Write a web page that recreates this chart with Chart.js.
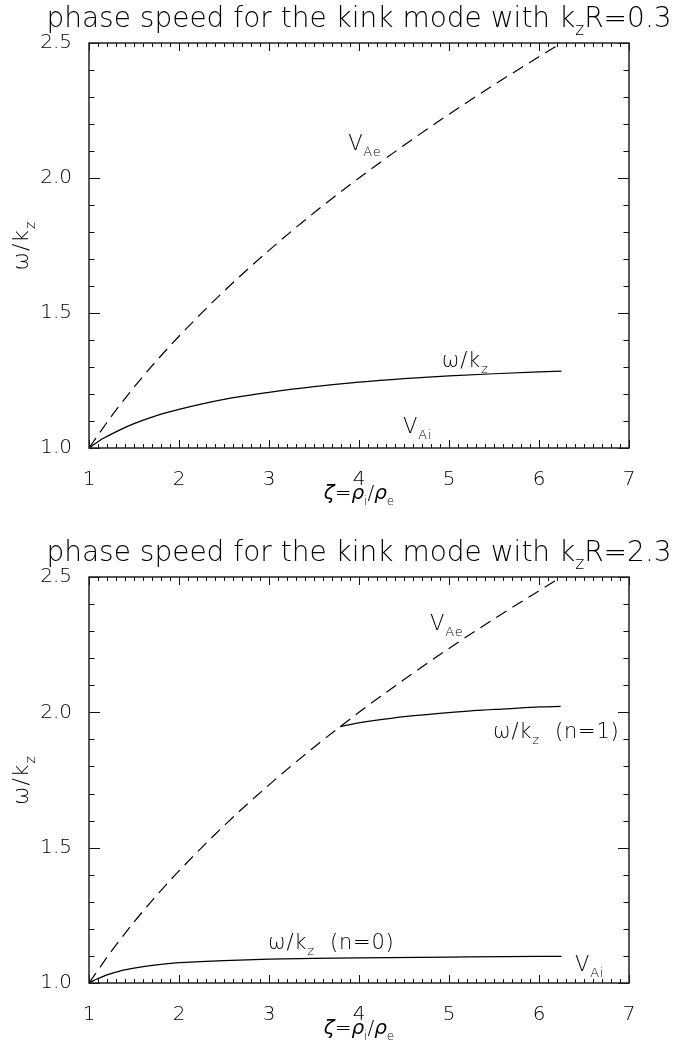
<!DOCTYPE html>
<html><head><meta charset="utf-8">
<script src="https://cdn.jsdelivr.net/npm/chart.js@4"></script>
<style>
html,body{margin:0;padding:0;background:#fff;}
#wrap{position:relative;width:694px;height:1053px;}
canvas{position:absolute;left:0;}
</style></head><body>
<div id="wrap">
<canvas id="c1" width="694" height="526" style="top:0"></canvas>
<canvas id="c2" width="694" height="527" style="top:526px"></canvas>
</div>
<script>
// ---------- data ----------
const xTicks = [1, 2, 3, 4, 5, 6, 7];
const yTicks = [1.0, 1.5, 2.0, 2.5];

// external Alfven speed V_Ae (dashed), same in both panels
const zetaVA = [1, 1.25, 1.5, 1.75, 2, 2.5, 3, 3.5, 4, 4.5, 5, 5.5, 6, 6.25];
const vAe    = [1.0, 1.118, 1.225, 1.323, 1.414, 1.581, 1.732, 1.871, 2.0, 2.121, 2.236, 2.345, 2.449, 2.5];

// kink mode, k_z R = 0.3
const zetaK03 = [1, 1.05, 1.1, 1.15, 1.2, 1.35, 1.5, 1.75, 2, 2.5, 3, 3.5, 4, 4.5, 5, 5.5, 6, 6.25];
const kink03  = [1.0, 1.012, 1.023, 1.034, 1.043, 1.068, 1.09, 1.12, 1.143, 1.18, 1.206, 1.227, 1.244, 1.257, 1.267, 1.275, 1.282, 1.285];

// kink mode, k_z R = 2.3, n = 0
const zetaK23n0 = [1, 1.05, 1.1, 1.2, 1.35, 1.5, 1.75, 2, 2.5, 3, 3.5, 4, 5, 6, 6.25];
const kink23n0  = [1.0, 1.009, 1.016, 1.03, 1.045, 1.055, 1.067, 1.075, 1.083, 1.088, 1.091, 1.093, 1.096, 1.098, 1.098];

// kink mode, k_z R = 2.3, n = 1
const zetaK23n1 = [3.79, 3.9, 4.16, 4.53, 4.9, 5.27, 5.64, 6.01, 6.24];
const kink23n1  = [1.947, 1.955, 1.969, 1.985, 1.996, 2.006, 2.013, 2.02, 2.022];

// ---------- helpers ----------
const FAM = '"DejaVu Sans", sans-serif';
const WEIGHT = '200';
const pts = (xs, ys) => xs.map((v, i) => ({x: v, y: ys[i]}));

function fontStr(size, italic) {
  return (italic ? 'italic ' : '') + WEIGHT + ' ' + size + 'px ' + FAM;
}
function drawRich(ctx, parts, x, y, size, align, spacing) {
  const subS = Math.round(size * 0.62);
  ctx.letterSpacing = (spacing || 0) + 'px';
  let total = 0;
  const ws = parts.map(p => {
    ctx.font = fontStr(p.sub ? subS : size, p.it);
    const w = ctx.measureText(p.t).width;
    total += w;
    return w;
  });
  let cx = align === 'center' ? x - total / 2 : (align === 'right' ? x - total : x);
  ctx.textAlign = 'left';
  ctx.textBaseline = 'alphabetic';
  parts.forEach((p, i) => {
    ctx.font = fontStr(p.sub ? subS : size, p.it);
    ctx.fillText(p.t, cx, p.sub ? y + size * 0.3 : y);
    cx += ws[i];
  });
  ctx.letterSpacing = '0px';
}

const omegaK = [{t: 'ω/k'}, {t: 'z', sub: true}];
const xTitle = [{t: 'ζ', it: true}, {t: '='}, {t: 'ρ', it: true}, {t: 'i', sub: true}, {t: '/'}, {t: 'ρ', it: true}, {t: 'e', sub: true}];

const framePlugin = {
  id: 'framePlugin',
  afterDraw(chart, args, o) {
    const {ctx, chartArea: a, scales: {x, y}} = chart;
    ctx.save();
    ctx.strokeStyle = '#111';
    ctx.fillStyle = '#000';
    ctx.lineWidth = 1;
    const seg = (x1, y1, x2, y2) => { ctx.beginPath(); ctx.moveTo(x1, y1); ctx.lineTo(x2, y2); ctx.stroke(); };
    // x ticks (inward, bottom + top), minor every 0.1
    const x0 = xTicks[0], x1 = xTicks[xTicks.length - 1];
    for (let i = 0; i <= Math.round((x1 - x0) * 10); i++) {
      const v = x0 + i / 10;
      const px = Math.round(x.getPixelForValue(v)) + 0.5;
      const len = i % 10 === 0 ? 8 : 4;
      seg(px, a.bottom, px, a.bottom - len);
      seg(px, a.top, px, a.top + len);
    }
    const y0 = yTicks[0], y1 = yTicks[yTicks.length - 1];
    for (let i = 0; i <= Math.round((y1 - y0) * 10); i++) {
      const v = y0 + i / 10;
      const py = Math.round(y.getPixelForValue(v)) + 0.5;
      const len = i % 5 === 0 ? 11 : 5.5;
      seg(a.left, py, a.left + len, py);
      seg(a.right, py, a.right - len, py);
    }
    ctx.lineWidth = 1.5;
    ctx.strokeStyle = '#222';
    ctx.strokeRect(a.left, a.top, a.right - a.left, a.bottom - a.top);

    // title, centred over the plot box
    drawRich(ctx, o.title, (a.left + a.right) / 2, o.titleY, 28, 'center');
    // axis titles
    drawRich(ctx, xTitle, (a.left + a.right) / 2, a.bottom + 51, 20, 'center');
    ctx.save();
    ctx.translate(28, (a.top + a.bottom) / 2);
    ctx.rotate(-Math.PI / 2);
    drawRich(ctx, omegaK, 0, 0, 22, 'center', 1);
    ctx.restore();
    // annotations
    o.notes.forEach(n => {
      drawRich(ctx, n.parts, x.getPixelForValue(n.x), y.getPixelForValue(n.y), 21, 'left', 0.8);
    });
    ctx.restore();
  }
};

function makeChart(id, datasets, axisH, padTop, opts) {
  return new Chart(document.getElementById(id), {
    type: 'line',
    data: {datasets},
    options: {
      responsive: false,
      animation: false,
      devicePixelRatio: 1,
      layout: {padding: {top: padTop, right: 65, left: 0, bottom: 0}},
      plugins: {legend: {display: false}, tooltip: {enabled: false}, title: {display: false}, framePlugin: opts},
      elements: {point: {radius: 0}, line: {borderColor: '#000', cubicInterpolationMode: 'monotone'}},
      scales: {
        x: {
          type: 'linear', min: xTicks[0], max: xTicks[xTicks.length - 1],
          grid: {display: false}, border: {display: false},
          afterBuildTicks: s => { s.ticks = xTicks.map(v => ({value: v})); },
          ticks: {color: '#000', padding: 12, maxRotation: 0, font: {family: 'DejaVu Sans', size: 20, weight: WEIGHT}, callback: v => String(v)},
          afterFit: s => { s.height = axisH; }
        },
        y: {
          type: 'linear', min: yTicks[0], max: yTicks[yTicks.length - 1],
          grid: {display: false}, border: {display: false},
          afterBuildTicks: s => { s.ticks = yTicks.map(v => ({value: v})); },
          ticks: {color: '#000', padding: 9, font: {family: 'DejaVu Sans', size: 20, weight: WEIGHT}, callback: v => Number(v).toFixed(1)},
          afterFit: s => { s.width = 89; }
        }
      }
    },
    plugins: [framePlugin]
  });
}

const dashed = data => ({data, borderDash: [12, 7], borderWidth: 1.2, fill: false});
const solid = data => ({data, borderWidth: 1.25, fill: false});

makeChart('c1', [dashed(pts(zetaVA, vAe)), solid(pts(zetaK03, kink03))], 526 - 448, 43, {
  title: [{t: 'phase speed for the kink mode with k'}, {t: 'z', sub: true}, {t: 'R=0.3'}],
  titleY: 27,
  notes: [
    {x: 3.88, y: 2.104, parts: [{t: 'V'}, {t: 'Ae', sub: true}]},
    {x: 4.92, y: 1.30, parts: omegaK},
    {x: 4.49, y: 1.056, parts: [{t: 'V'}, {t: 'Ai', sub: true}]}
  ]
});

makeChart('c2', [dashed(pts(zetaVA, vAe)), solid(pts(zetaK23n0, kink23n0)), solid(pts(zetaK23n1, kink23n1))], 527 - 457, 51, {
  title: [{t: 'phase speed for the kink mode with k'}, {t: 'z', sub: true}, {t: 'R=2.3'}],
  titleY: 35,
  notes: [
    {x: 4.79, y: 2.304, parts: [{t: 'V'}, {t: 'Ae', sub: true}]},
    {x: 5.49, y: 1.907, parts: omegaK.concat([{t: '  (n=1)'}])},
    {x: 2.99, y: 1.126, parts: omegaK.concat([{t: '  (n=0)'}])},
    {x: 6.4, y: 1.044, parts: [{t: 'V'}, {t: 'Ai', sub: true}]}
  ]
});
</script>
</body></html>
